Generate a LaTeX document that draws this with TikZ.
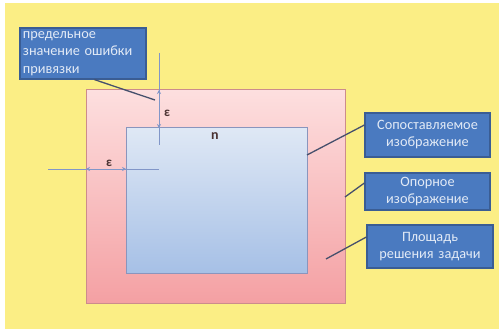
\documentclass[tikz,border=0pt]{standalone}
\usepackage{fontspec}
\setmainfont{Carlito}
\usetikzlibrary{arrows.meta}
\definecolor{bgyellow}{HTML}{FBEE85}
\definecolor{pinktop}{HTML}{FDDFDF}
\definecolor{pinkbot}{HTML}{F4A0A3}
\definecolor{pinkline}{HTML}{CC8C8C}
\definecolor{bluetop}{HTML}{DFE8F5}
\definecolor{bluebot}{HTML}{A6C0E6}
\definecolor{blueline}{HTML}{8A95BD}
\definecolor{calloutfill}{HTML}{4A7AC0}
\definecolor{calloutdraw}{HTML}{3A5D94}
\definecolor{callouttext}{HTML}{E2EAF6}
\definecolor{leader}{HTML}{46506C}
\definecolor{epsline}{HTML}{8196C8}
\definecolor{epstext}{HTML}{4A3232}
\tikzset{
  callout/.style={draw=calloutdraw, line width=1.2pt, fill=calloutfill,
    text=callouttext, font=\fontsize{14.3}{17}\selectfont, inner sep=0pt,
    align=center, anchor=center},
  leaderline/.style={draw=leader, line width=1.3pt},
  epsarrow/.style={draw=epsline, line width=0.9pt, {Stealth[length=4pt,width=4pt]}-{Stealth[length=4pt,width=4pt]}},
  epsplain/.style={draw=epsline, line width=0.9pt},
  epslabel/.style={text=epstext, font=\fontsize{13}{15}\selectfont\bfseries, inner sep=0pt}
}
\begin{document}
\begin{tikzpicture}[x=1pt,y=1pt]
\useasboundingbox (0,0) rectangle (499,-329);
\fill[white] (0,0) rectangle (499,-329);
\fill[bgyellow] (5,-3) rectangle (499,-329);
% outer reference image
\path[draw=pinkline, line width=1pt, top color=pinktop, bottom color=pinkbot]
  (86,-90) rectangle (345,-303);
\node[inner sep=0pt, minimum width=259pt, minimum height=213pt] (outer) at (215.5,-196.5) {};
% inner matched image
\path[draw=blueline, line width=1pt, top color=bluetop, bottom color=bluebot]
  (126,-128) rectangle (307,-273);
\node[inner sep=0pt, minimum width=181pt, minimum height=145pt] (inner) at (216.5,-200.5) {};
\node[epslabel, font=\fontsize{14}{16}\selectfont\bfseries] (nlab) at (215,-136) {n};
% epsilon vertical
\coordinate (vtop) at (159,-53);
\coordinate (vbot) at (159,-145);
\coordinate (va) at (159,-90);
\coordinate (vb) at (159,-128);
\draw[epsplain] (vtop) -- (vbot);
\draw[epsarrow] (va) -- (vb);
\node[epslabel] (eps1) at (167,-113) {ε};
% epsilon horizontal
\coordinate (hl) at (48,-169);
\coordinate (hr) at (159,-169);
\coordinate (ha) at (86,-169);
\coordinate (hb) at (126,-169);
\draw[epsplain] (hl) -- (hr);
\draw[epsarrow] (ha) -- (hb);
\node[epslabel] (eps2) at (109,-163) {ε};
% callouts
\node[callout, minimum width=126pt, minimum height=51pt, text width=120pt, align=left, font=\fontsize{14.3}{17.5}\selectfont] (c1) at (83,-53.5)
  {предельное\\значение ошибки\\привязки};
\node[callout, minimum width=125pt, minimum height=44pt, text width=122pt] (c2) at (427.5,-135)
  {Сопоставляемое\\изображение};
\node[callout, minimum width=125pt, minimum height=37pt, text width=122pt] (c3) at (427.5,-191.5)
  {Опорное\\изображение};
\node[callout, minimum width=126pt, minimum height=43pt, text width=123pt] (c4) at (430,-246.5)
  {Площадь\\решения задачи};
% leader lines
\coordinate (p1) at (155,-100);
\coordinate (p2) at (307,-155);
\coordinate (p3) at (345,-197);
\coordinate (p4) at (326,-259);
\draw[leaderline] (c1.south west) ++(75,0) -- (p1);
\draw[leaderline] (p2) -- (c2.west |- 0,-125);
\draw[leaderline] (p3) -- (c3.west |- 0,-183);
\draw[leaderline] (p4) -- (c4.west |- 0,-237);
\end{tikzpicture}
\end{document}
